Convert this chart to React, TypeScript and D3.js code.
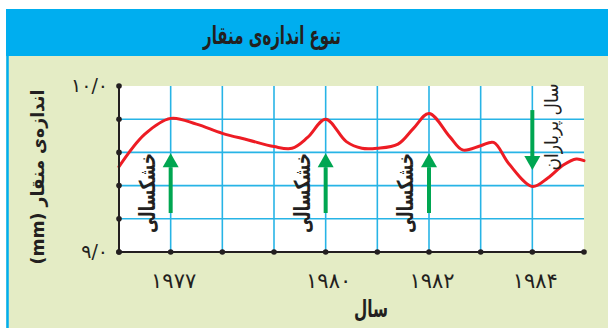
import React from "react";
import * as d3 from "d3";

const curveYears = [1976, 1976.5, 1977, 1977.5, 1978, 1978.5, 1979, 1979.35, 1979.65, 1980, 1980.4, 1980.7, 1981, 1981.4, 1981.7, 1982, 1982.4, 1982.65, 1983, 1983.25, 1983.55, 1984, 1984.3, 1984.6, 1984.85, 1985];
const curveValues = [9.514, 9.71, 9.805, 9.77, 9.715, 9.675, 9.635, 9.625, 9.69, 9.8, 9.665, 9.625, 9.625, 9.65, 9.745, 9.835, 9.695, 9.615, 9.64, 9.66, 9.53, 9.395, 9.446, 9.524, 9.56, 9.55];

const gridYears = [1976, 1977, 1978, 1979, 1980, 1981, 1982, 1983, 1984, 1985];
const gridValues = [9.0, 9.2, 9.4, 9.6, 9.8, 10.0];
const xTickYears = [1977, 1980, 1982, 1984];
const xTickLabels = ["۱۹۷۷", "۱۹۸۰", "۱۹۸۲", "۱۹۸۴"];
const yTickValues = [10.0, 9.0];
const yTickLabels = ["۱۰/۰", "۹/۰"];

const droughtYears = [1977, 1980, 1982];
const droughtFrom = 9.235;
const droughtTo = 9.595;
const wetYears = [1984];
const wetFrom = 9.855;
const wetTo = 9.494;

const title = "تنوع اندازه‌ی منقار";
const xTitle = "سال";
const yTitle = "اندازه‌ی منقار (mm)";
const droughtLabel = "خشکسالی";
const wetLabel = "سال پرباران";

const W = 608;
const H = 328;
const FONT = "'DejaVu Sans', sans-serif";

export default function App() {
  const x = d3.scaleLinear().domain([1976, 1985]).range([119, 584]);
  const y = d3.scaleLinear().domain([9, 10]).range([252, 86]);
  const line = d3
    .line<number>()
    .x((_, i) => x(curveYears[i]))
    .y((v) => y(v))
    .curve(d3.curveCatmullRom.alpha(0.5));

  const blue = "#27b4e6";
  const green = "#00a651";
  const dark = "#231f20";

  const arrow = (xv: number, from: number, to: number, key: string) => {
    const x0 = x(xv);
    const y0 = y(from);
    const y1 = y(to);
    const dir = y1 < y0 ? -1 : 1;
    const headLen = 14;
    const headHalf = 8;
    const yb = y1 - dir * headLen;
    return (
      <g key={key}>
        <line x1={x0} x2={x0} y1={y0} y2={yb} stroke={green} strokeWidth={4} />
        <polygon points={`${x0 - headHalf},${yb} ${x0 + headHalf},${yb} ${x0},${y1}`} fill={green} />
      </g>
    );
  };

  return (
    <svg width={W} height={H} style={{ position: "absolute", left: 0, top: 0 }}>
      <rect x={0} y={0} width={W} height={H} fill="#ffffff" />
      <rect x={6} y={9} width={W - 6} height={H - 9} fill="#e4ecc5" />
      <rect x={6} y={9} width={W - 6} height={47} fill="#00aeef" />
      <line x1={7.5} x2={7.5} y1={9} y2={H} stroke="#00aeef" strokeWidth={2.5} />
      <text x={272} y={44} textAnchor="middle" direction="rtl" fontFamily={FONT} fontWeight="bold" fontSize={25} textLength={138} lengthAdjust="spacingAndGlyphs" fill={dark}>
        {title}
      </text>

      <rect x={x(1976)} y={y(10)} width={x(1985) - x(1976)} height={y(9) - y(10)} fill="#ffffff" />
      {gridYears.slice(1, -1).map((g) => (
        <line key={"gx" + g} x1={x(g)} x2={x(g)} y1={y(10)} y2={y(9)} stroke={blue} strokeWidth={1.6} />
      ))}
      {gridValues.slice(1, -1).map((g) => (
        <line key={"gy" + g} x1={x(1976)} x2={x(1985)} y1={y(g)} y2={y(g)} stroke={blue} strokeWidth={1.6} />
      ))}

      <path d={line(curveValues) || ""} fill="none" stroke="#ed1c24" strokeWidth={3} strokeLinecap="round" />

      <line x1={x(1976)} x2={x(1976)} y1={y(10)} y2={y(9)} stroke={dark} strokeWidth={2} />
      <line x1={x(1976)} x2={x(1985)} y1={y(9)} y2={y(9)} stroke={dark} strokeWidth={2} />
      {gridValues.map((g) => (
        <circle key={"dy" + g} cx={x(1976)} cy={y(g)} r={2.8} fill={dark} />
      ))}
      {gridYears.map((g) => (
        <circle key={"dx" + g} cx={x(g)} cy={y(9)} r={2.8} fill={dark} />
      ))}

      {yTickValues.map((v, i) => (
        <text key={"yt" + v} x={108} y={y(v) + 6} textAnchor="end" fontFamily={FONT} fontSize={19} fill={dark}>
          {yTickLabels[i]}
        </text>
      ))}
      {xTickYears.map((v, i) => (
        <text key={"xt" + v} x={x(v) + 3} y={288} textAnchor="middle" fontFamily={FONT} fontSize={21} fill={dark}>
          {xTickLabels[i]}
        </text>
      ))}
      <text x={371} y={317} textAnchor="middle" direction="rtl" fontFamily={FONT} fontWeight="bold" fontSize={24} textLength={34} lengthAdjust="spacingAndGlyphs" fill={dark}>
        {xTitle}
      </text>
      <text
        transform={`translate(44,177) rotate(-90)`}
        textAnchor="middle"
        direction="rtl"
        fontFamily={FONT}
        fontWeight="bold"
        fontSize={18}
        textLength={175}
        lengthAdjust="spacingAndGlyphs"
        fill={dark}
      >
        {yTitle}
      </text>

      {droughtYears.map((yr) => arrow(yr, droughtFrom, droughtTo, "da" + yr))}
      {wetYears.map((yr) => arrow(yr, wetFrom, wetTo, "wa" + yr))}

      {droughtYears.map((yr) => (
        <text
          key={"dl" + yr}
          transform={`translate(${x(yr) - 16},193) rotate(-90)`}
          textAnchor="middle"
          direction="rtl"
          fontFamily={FONT}
          fontWeight="bold"
          fontSize={22}
          textLength={80}
          lengthAdjust="spacingAndGlyphs"
          fill={dark}
        >
          {droughtLabel}
        </text>
      ))}
      {wetYears.map((yr) => (
        <text
          key={"wl" + yr}
          transform={`translate(${x(yr) + 26},127) rotate(-90)`}
          textAnchor="middle"
          direction="rtl"
          fontFamily={FONT}
          fontSize={19}
          textLength={87}
          lengthAdjust="spacingAndGlyphs"
          fill={dark}
        >
          {wetLabel}
        </text>
      ))}
    </svg>
  );
}
